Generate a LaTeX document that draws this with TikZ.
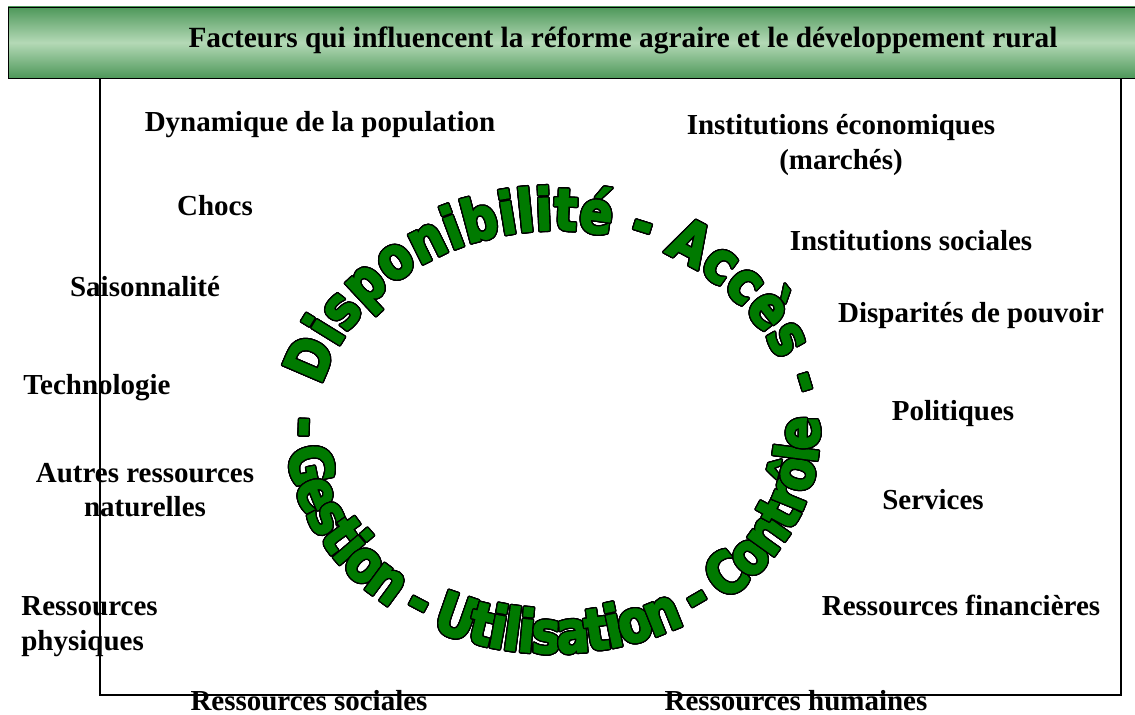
\documentclass[tikz,border=0pt]{standalone}
\usepackage{fontspec}
\setmainfont{Liberation Serif}
\newfontfamily\ringfont[FakeStretch=0.84,FakeBold=2.5]{DejaVu Sans}
\usepackage[copies]{contour}
\usetikzlibrary{decorations.text}
\contourlength{0.75pt}
\contournumber{24}
\definecolor{ringgreen}{RGB}{0,122,0}
\definecolor{barlight}{RGB}{180,217,182}
\definecolor{bardark}{RGB}{78,152,90}
\newcommand{\ringchar}[1]{{\ringfont\bfseries\fontsize{33}{33}\selectfont\contour{black}{#1}}}

\begin{document}
\begin{tikzpicture}[x=0.02cm,y=-0.02cm,
    lbl/.style={font=\bfseries\fontsize{16.5}{20}\selectfont, inner sep=0pt, anchor=base},
    ring/.style={decorate, decoration={text effects along path, text={#1},
      text effects/.cd, text along path, fit text to path, character command=\ringchar,
      every character/.style={text=ringgreen}}}]
      \useasboundingbox (0,0) rectangle (1135,715);

      \shade [top color=bardark, bottom color=bardark, middle color=barlight] (8,7) rectangle (1145,78);
      \draw [thin] (8,7) rectangle (1145,78);
      \node [lbl, font=\bfseries\fontsize{16.7}{20}\selectfont] (title) at (623,48)
        {Facteurs qui influencent la réforme agraire et le développement rural};
      \draw [line width=1.1pt] (100,78) -- (100,695) -- (1121,695) -- (1121,78);

      \node [lbl] (dyn) at (320,132) {Dynamique de la population};
      \node [lbl] (chocs) at (215,216) {Chocs};
      \node [lbl] (saison) at (145,297) {Saisonnalité};
      \node [lbl] (techno) at (97,395) {Technologie};
      \node [lbl] (autres) at (145,483) {Autres ressources};
      \node [lbl] (autres2) at (145,517) {naturelles};
      \node [lbl, anchor=base west] (phys) at (21,615) {Ressources};
      \node [lbl, anchor=base west] (phys2) at (21,650) {physiques};
      \node [lbl] (soc) at (309,710) {Ressources sociales};
      \node [lbl] (hum) at (796,710) {Ressources humaines};
      \node [lbl] (eco) at (841,135) {Institutions économiques};
      \node [lbl] (eco2) at (841,170) {(marchés)};
      \node [lbl] (instsoc) at (911,251) {Institutions sociales};
      \node [lbl] (pouvoir) at (971,323) {Disparités de pouvoir};
      \node [lbl] (polit) at (953,421) {Politiques};
      \node [lbl] (serv) at (933,510) {Services};
      \node [lbl] (fin) at (961,615) {Ressources financières};

      \path [ring={Disponibilité - Accès -}, shift={(555,440)}]
        (-165:242 and 210) arc [start angle=-165, end angle=-12, x radius=242, y radius=210];
      \path [ring={- Gestion - Utilisation - Contrôle}, shift={(553,432)}]
        (-176:266 and 221) arc [start angle=-176, end angle=-364, x radius=266, y radius=221];
    \end{tikzpicture}
\end{document}
